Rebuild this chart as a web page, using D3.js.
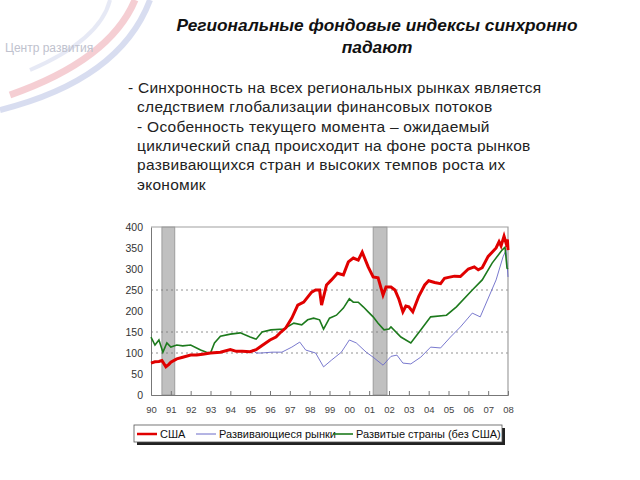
<!DOCTYPE html>
<html>
<head>
<meta charset="utf-8">
<script src="https://cdn.jsdelivr.net/npm/d3@7"></script>
<style>
  body { margin: 0; background: #fff; }
  svg { display: block; font-family: "Liberation Sans", Arial, sans-serif; }
</style>
</head>
<body>
<svg id="chart"></svg>
<script>
// --- data ---
let titleLines = ['Региональные фондовые индексы синхронно', 'падают']
let bulletLines = [
    '- Синхронность на всех региональных рынках является',
    '  следствием глобализации финансовых потоков',
    '  - Особенность текущего момента – ожидаемый',
    '  циклический спад происходит на фоне роста рынков',
    '  развивающихся стран и высоких темпов роста их',
    '  экономик'
]

let yTicks = [0, 50, 100, 150, 200, 250, 300, 350, 400]
let gridLevels = [100, 150, 250]
let yearTicks = d3.range(1990, 2009)
let yearLabels = ['90','91','92','93','94','95','96','97','98','99','00','01','02','03','04','05','06','07','08']

// recessions (start, end)
let recessions = [[1990.55, 1991.2], [2001.2, 2001.9]]

let usaT = [1990.0,1990.2,1990.4,1990.55,1990.75,1990.9,1991.0,1991.3,1991.6,1992.0,1992.3,1992.6,1993.0,1993.5,1994.0,1994.3,1994.6,1995.0,1995.3,1995.6,1996.0,1996.3,1996.55,1996.8,1997.1,1997.4,1997.7,1998.1,1998.3,1998.5,1998.6,1998.85,1999.1,1999.4,1999.7,1999.95,2000.2,2000.45,2000.65,2000.95,2001.2,2001.45,2001.7,2001.85,2002.1,2002.3,2002.5,2002.7,2002.85,2003.0,2003.2,2003.5,2003.8,2004.0,2004.3,2004.6,2004.8,2005.0,2005.3,2005.6,2006.0,2006.3,2006.5,2006.7,2007.0,2007.2,2007.4,2007.55,2007.65,2007.8,2007.9,2007.97,2008.0]
let usaV = [76,79,80,82,67,73,78,86,90,95,95,97,100,102,108,104,104,103,108,118,131,138,150,160,183,214,221,245,250,250,214,262,274,290,286,317,326,321,340,305,281,279,238,257,257,250,228,198,212,210,198,235,262,272,268,265,278,280,283,282,300,305,298,303,330,340,350,365,355,378,362,370,345]

let emT = [1995.1,1995.3,1995.55,1996.1,1996.6,1997.1,1997.5,1997.8,1998.3,1998.7,1999.1,1999.6,2000.0,2000.35,2000.85,2001.2,2001.7,2002.1,2002.4,2002.7,2003.1,2003.6,2004.1,2004.6,2005.1,2005.6,2006.2,2006.6,2006.9,2007.4,2007.75,2007.9,2008.0]
let emV = [108,100,100,102,102,114,126,107,100,67,83,102,131,124,102,90,71,92,95,76,74,90,114,112,138,162,195,186,219,274,329,345,281]

let devT = [1990.0,1990.2,1990.4,1990.6,1990.8,1991.0,1991.3,1991.6,1992.0,1992.5,1992.8,1993.0,1993.2,1993.5,1994.0,1994.5,1995.0,1995.3,1995.6,1996.05,1996.7,1997.2,1997.6,1997.9,1998.2,1998.5,1998.7,1999.0,1999.35,1999.7,2000.0,2000.2,2000.45,2000.7,2000.95,2001.2,2001.45,2001.75,2002.0,2002.1,2002.6,2003.1,2003.6,2004.1,2004.9,2005.4,2006.2,2006.7,2007.2,2007.7,2007.85,2007.95,2008.0]
let devV = [138,119,131,102,124,114,119,117,119,107,102,100,124,140,145,148,138,133,150,155,157,171,167,179,183,179,157,183,190,207,229,221,221,210,198,186,171,155,157,162,138,124,155,186,190,210,250,274,314,345,352,302,300]

// --- layout ---
let width = 640, height = 480
let plot = { left: 151, right: 508, top: 227, bottom: 395 }

const svg = d3.select('#chart').attr('width', width).attr('height', height)

// faint logo swooshes in the corner
let logo = svg.append('g').attr('opacity', 0.3)
logo.append('path').attr('d', 'M10,95 Q110,60 135,0').attr('fill', 'none').attr('stroke', '#e06070').attr('stroke-width', 7)
logo.append('path').attr('d', 'M0,110 Q120,80 150,0').attr('fill', 'none').attr('stroke', '#8090d0').attr('stroke-width', 6)
logo.append('path').attr('d', 'M30,70 Q100,40 110,0').attr('fill', 'none').attr('stroke', '#b0b8e0').attr('stroke-width', 4)
svg.append('text').attr('x', 5).attr('y', 52).text('Центр развития')
    .attr('font-size', 12).attr('fill', '#c0c2ce')

// title
svg.selectAll('.title').data(titleLines).enter().append('text')
    .attr('x', 377).attr('y', (d, i) => 31 + i * 22)
    .attr('text-anchor', 'middle')
    .attr('font-size', 17.3).attr('font-weight', 'bold').attr('font-style', 'italic')
    .attr('fill', '#111')
    .text(d => d)

// bullet text
svg.selectAll('.bullet').data(bulletLines).enter().append('text')
    .attr('x', 128).attr('y', (d, i) => 93 + i * 19.3)
    .attr('font-size', 15.5).attr('letter-spacing', 0.25).attr('fill', '#222')
    .style('white-space', 'pre')
    .text(d => d)

// scales
let x = d3.scaleLinear().domain([1990, 2008]).range([plot.left, plot.right])
let y = d3.scaleLinear().domain([0, 400]).range([plot.bottom, plot.top])

const g = svg.append('g')

// recession bars
g.selectAll('.rec').data(recessions).enter().append('rect')
    .attr('x', d => x(d[0])).attr('width', d => x(d[1]) - x(d[0]))
    .attr('y', plot.top).attr('height', plot.bottom - plot.top)
    .attr('fill', '#c0c0c0').attr('stroke', '#909090').attr('stroke-width', 0.8)

// dotted grid
g.selectAll('.grid').data(gridLevels).enter().append('line')
    .attr('x1', plot.left).attr('x2', plot.right)
    .attr('y1', d => y(d)).attr('y2', d => y(d))
    .attr('stroke', '#777').attr('stroke-width', 0.8).attr('stroke-dasharray', '2,3')

// frame
g.append('path')
    .attr('d', `M${plot.left},${plot.top}H${plot.right}V${plot.bottom}`)
    .attr('fill', 'none').attr('stroke', '#a0a0a0').attr('stroke-width', 1.2)

// axes
let yAxis = d3.axisLeft(y).tickValues(yTicks).tickSize(0).tickPadding(8)
let ya = g.append('g').attr('transform', `translate(${plot.left},0)`).call(yAxis)
ya.select('.domain').attr('stroke', '#777')
ya.selectAll('text').attr('font-size', 10.5).attr('fill', '#333').attr('font-family', '"Liberation Sans", Arial, sans-serif')

let xAxis = d3.axisBottom(x).tickValues(yearTicks).tickSize(-4).tickFormat((d, i) => yearLabels[i]).tickPadding(11)
let xa = g.append('g').attr('transform', `translate(0,${plot.bottom})`).call(xAxis)
xa.select('.domain').attr('stroke', '#777')
xa.selectAll('.tick line').attr('stroke', '#777')
xa.selectAll('text').attr('font-size', 9.5).attr('fill', '#444').attr('font-family', '"Liberation Sans", Arial, sans-serif')

// lines
let line = d3.line().x(d => x(d[0])).y(d => y(d[1])).curve(d3.curveLinear)
let zipped = (t, v) => t.map((d, i) => [d, v[i]])

g.append('path').datum(zipped(emT, emV)).attr('d', line)
    .attr('fill', 'none').attr('stroke', '#6a6ac8').attr('stroke-width', 0.9)
g.append('path').datum(zipped(devT, devV)).attr('d', line)
    .attr('fill', 'none').attr('stroke', '#1d7a1d').attr('stroke-width', 1.6)
g.append('path').datum(zipped(usaT, usaV)).attr('d', line)
    .attr('fill', 'none').attr('stroke', '#e00000').attr('stroke-width', 3)

// legend
let lg = svg.append('g')
lg.append('rect').attr('x', 137).attr('y', 428).attr('width', 368).attr('height', 17).attr('fill', '#222')
lg.append('rect').attr('x', 134).attr('y', 425).attr('width', 368).attr('height', 17)
    .attr('fill', '#fff').attr('stroke', '#555').attr('stroke-width', 0.8)

let legendItems = [
    { label: 'США', color: '#e00000', w: 2.5, x: 137 },
    { label: 'Развивающиеся рынки', color: '#6a6ac8', w: 1, x: 196 },
    { label: 'Развитые страны (без США)', color: '#1d7a1d', w: 1.6, x: 333 }
]
legendItems.forEach(d => {
    lg.append('line').attr('x1', d.x).attr('x2', d.x + 20).attr('y1', 434).attr('y2', 434)
        .attr('stroke', d.color).attr('stroke-width', d.w)
    lg.append('text').attr('x', d.x + 23).attr('y', 438).attr('font-size', 11).attr('fill', '#111').text(d.label)
})
</script>
</body>
</html>
